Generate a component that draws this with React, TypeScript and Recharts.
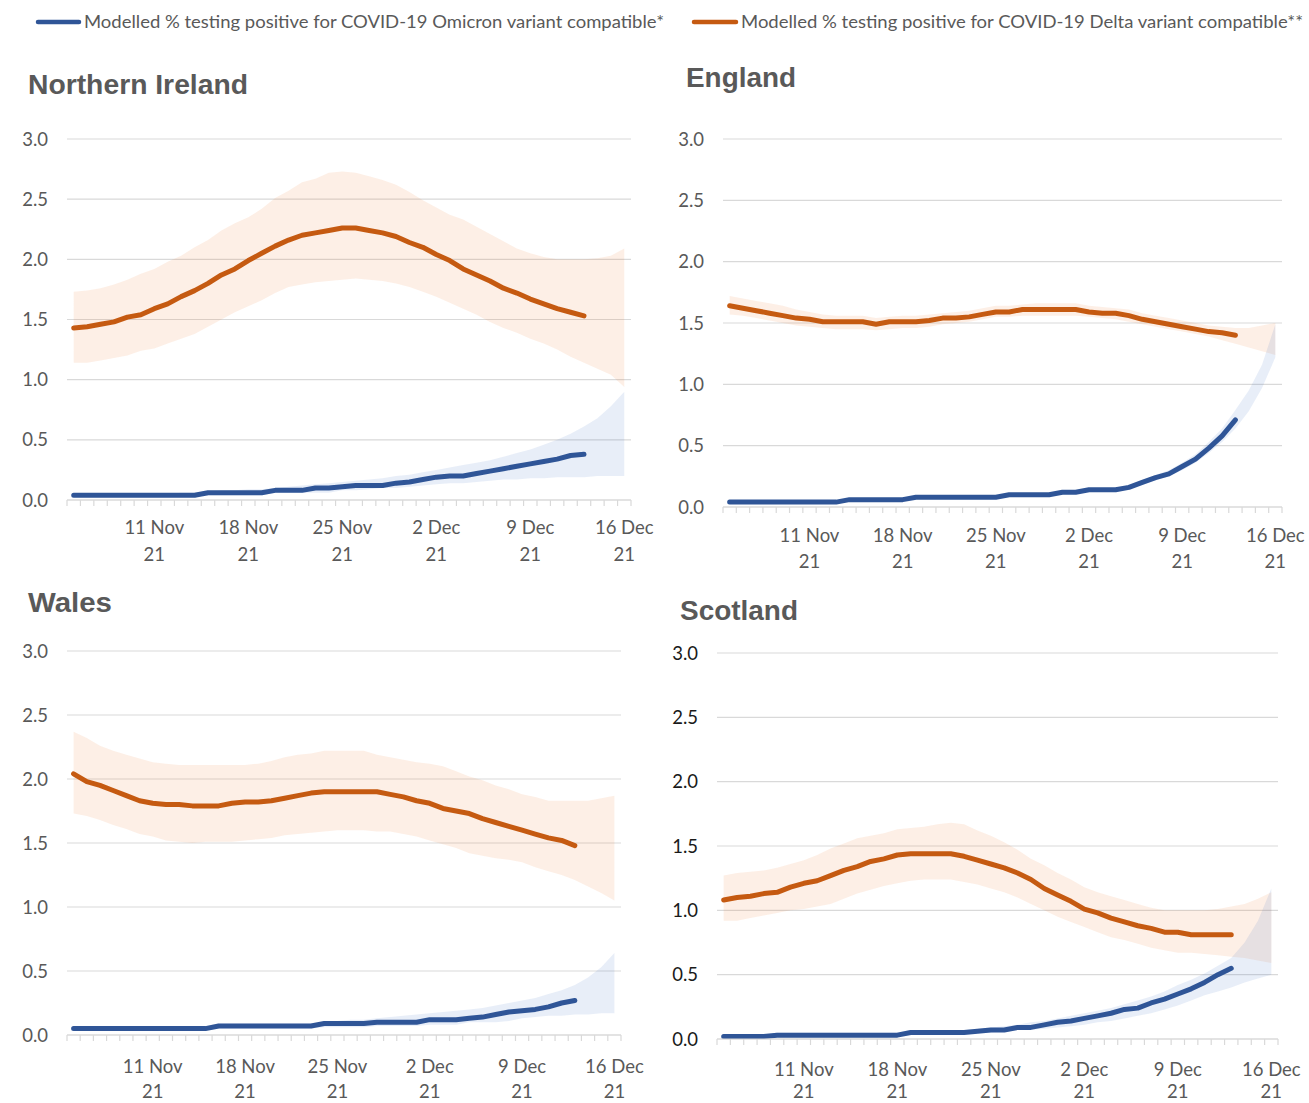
import { ComposedChart, Area, Line, XAxis, YAxis, CartesianGrid } from "recharts"

// Daily categories, 5 Nov – 16 Dec 2021
const dates = [
  "5 Nov", "6 Nov", "7 Nov", "8 Nov", "9 Nov", "10 Nov", "11 Nov", "12 Nov", "13 Nov", "14 Nov",
  "15 Nov", "16 Nov", "17 Nov", "18 Nov", "19 Nov", "20 Nov", "21 Nov", "22 Nov", "23 Nov", "24 Nov",
  "25 Nov", "26 Nov", "27 Nov", "28 Nov", "29 Nov", "30 Nov", "1 Dec", "2 Dec", "3 Dec", "4 Dec",
  "5 Dec", "6 Dec", "7 Dec", "8 Dec", "9 Dec", "10 Dec", "11 Dec", "12 Dec", "13 Dec", "14 Dec",
  "15 Dec", "16 Dec",
]
const tickLabels = ["11 Nov", "18 Nov", "25 Nov", "2 Dec", "9 Dec", "16 Dec"]
const yearLabel = "21"
const yTicks = [0, 0.5, 1, 1.5, 2, 2.5, 3]

const omicronName = "Modelled % testing positive for COVID-19 Omicron variant compatible*"
const deltaName = "Modelled % testing positive for COVID-19 Delta variant compatible**"

// Northern Ireland
const niDelta = [1.43, 1.44, 1.46, 1.48, 1.52, 1.54, 1.59, 1.63, 1.69, 1.74, 1.80, 1.87, 1.92, 1.99, 2.05, 2.11, 2.16, 2.20, 2.22, 2.24, 2.26, 2.26, 2.24, 2.22, 2.19, 2.14, 2.10, 2.04, 1.99, 1.92, 1.87, 1.82, 1.76, 1.72, 1.67, 1.63, 1.59, 1.56, 1.53]
const niDeltaHigh = [1.73, 1.74, 1.76, 1.79, 1.83, 1.88, 1.92, 1.98, 2.03, 2.10, 2.16, 2.24, 2.30, 2.35, 2.42, 2.51, 2.57, 2.64, 2.67, 2.72, 2.73, 2.72, 2.69, 2.66, 2.62, 2.56, 2.49, 2.43, 2.37, 2.33, 2.27, 2.21, 2.15, 2.09, 2.05, 2.02, 2.00, 2.00, 2.00, 2.01, 2.03, 2.09]
const niDeltaLow = [1.14, 1.14, 1.16, 1.18, 1.20, 1.24, 1.26, 1.30, 1.34, 1.38, 1.44, 1.50, 1.56, 1.61, 1.66, 1.72, 1.77, 1.79, 1.81, 1.82, 1.83, 1.84, 1.83, 1.82, 1.80, 1.77, 1.73, 1.69, 1.64, 1.59, 1.54, 1.48, 1.43, 1.39, 1.34, 1.30, 1.25, 1.19, 1.14, 1.09, 1.04, 0.94]
const niOmicron = [0.04, 0.04, 0.04, 0.04, 0.04, 0.04, 0.04, 0.04, 0.04, 0.04, 0.06, 0.06, 0.06, 0.06, 0.06, 0.08, 0.08, 0.08, 0.10, 0.10, 0.11, 0.12, 0.12, 0.12, 0.14, 0.15, 0.17, 0.19, 0.20, 0.20, 0.22, 0.24, 0.26, 0.28, 0.30, 0.32, 0.34, 0.37, 0.38]
const niOmicronHigh = [0.05, 0.05, 0.05, 0.05, 0.05, 0.05, 0.05, 0.05, 0.06, 0.06, 0.07, 0.08, 0.08, 0.09, 0.09, 0.10, 0.11, 0.12, 0.13, 0.14, 0.15, 0.16, 0.17, 0.18, 0.20, 0.21, 0.23, 0.25, 0.27, 0.29, 0.31, 0.33, 0.36, 0.39, 0.42, 0.46, 0.50, 0.55, 0.61, 0.68, 0.78, 0.90]
const niOmicronLow = [0.03, 0.03, 0.03, 0.03, 0.03, 0.03, 0.03, 0.03, 0.03, 0.03, 0.04, 0.04, 0.04, 0.04, 0.04, 0.06, 0.06, 0.06, 0.06, 0.06, 0.08, 0.08, 0.09, 0.10, 0.10, 0.11, 0.12, 0.13, 0.14, 0.14, 0.15, 0.16, 0.17, 0.17, 0.18, 0.18, 0.19, 0.19, 0.19, 0.20, 0.20, 0.20]

// England
const enDelta = [1.64, 1.62, 1.60, 1.58, 1.56, 1.54, 1.53, 1.51, 1.51, 1.51, 1.51, 1.49, 1.51, 1.51, 1.51, 1.52, 1.54, 1.54, 1.55, 1.57, 1.59, 1.59, 1.61, 1.61, 1.61, 1.61, 1.61, 1.59, 1.58, 1.58, 1.56, 1.53, 1.51, 1.49, 1.47, 1.45, 1.43, 1.42, 1.40]
const enDeltaHigh = [1.72, 1.70, 1.68, 1.66, 1.64, 1.61, 1.59, 1.57, 1.56, 1.56, 1.56, 1.54, 1.55, 1.56, 1.56, 1.57, 1.58, 1.59, 1.60, 1.62, 1.64, 1.64, 1.65, 1.66, 1.66, 1.66, 1.66, 1.64, 1.63, 1.62, 1.61, 1.58, 1.56, 1.54, 1.52, 1.50, 1.48, 1.47, 1.46, 1.46, 1.48, 1.50]
const enDeltaLow = [1.57, 1.56, 1.54, 1.52, 1.50, 1.48, 1.47, 1.46, 1.45, 1.45, 1.45, 1.44, 1.45, 1.46, 1.46, 1.47, 1.49, 1.50, 1.51, 1.53, 1.55, 1.55, 1.56, 1.56, 1.56, 1.56, 1.56, 1.55, 1.54, 1.53, 1.51, 1.49, 1.47, 1.45, 1.43, 1.41, 1.39, 1.36, 1.33, 1.30, 1.27, 1.24]
const enOmicron = [0.04, 0.04, 0.04, 0.04, 0.04, 0.04, 0.04, 0.04, 0.04, 0.06, 0.06, 0.06, 0.06, 0.06, 0.08, 0.08, 0.08, 0.08, 0.08, 0.08, 0.08, 0.10, 0.10, 0.10, 0.10, 0.12, 0.12, 0.14, 0.14, 0.14, 0.16, 0.20, 0.24, 0.27, 0.33, 0.39, 0.48, 0.58, 0.71]
const enOmicronHigh = [0.05, 0.05, 0.05, 0.05, 0.05, 0.05, 0.05, 0.05, 0.05, 0.07, 0.07, 0.07, 0.07, 0.07, 0.09, 0.09, 0.09, 0.09, 0.09, 0.09, 0.09, 0.11, 0.11, 0.11, 0.11, 0.13, 0.13, 0.15, 0.15, 0.15, 0.18, 0.22, 0.26, 0.30, 0.36, 0.43, 0.53, 0.64, 0.79, 0.95, 1.16, 1.49]
const enOmicronLow = [0.03, 0.03, 0.03, 0.03, 0.03, 0.03, 0.03, 0.03, 0.03, 0.05, 0.05, 0.05, 0.05, 0.05, 0.07, 0.07, 0.07, 0.07, 0.07, 0.07, 0.07, 0.09, 0.09, 0.09, 0.09, 0.11, 0.11, 0.13, 0.13, 0.13, 0.15, 0.18, 0.22, 0.25, 0.30, 0.36, 0.44, 0.53, 0.64, 0.78, 0.97, 1.22]

// Wales
const waDelta = [2.04, 1.98, 1.95, 1.91, 1.87, 1.83, 1.81, 1.80, 1.80, 1.79, 1.79, 1.79, 1.81, 1.82, 1.82, 1.83, 1.85, 1.87, 1.89, 1.90, 1.90, 1.90, 1.90, 1.90, 1.88, 1.86, 1.83, 1.81, 1.77, 1.75, 1.73, 1.69, 1.66, 1.63, 1.60, 1.57, 1.54, 1.52, 1.48]
const waDeltaHigh = [2.37, 2.32, 2.26, 2.22, 2.19, 2.16, 2.13, 2.12, 2.11, 2.11, 2.11, 2.11, 2.11, 2.11, 2.12, 2.14, 2.17, 2.19, 2.20, 2.22, 2.22, 2.22, 2.22, 2.19, 2.17, 2.15, 2.13, 2.12, 2.10, 2.06, 2.02, 1.99, 1.95, 1.92, 1.88, 1.86, 1.83, 1.83, 1.83, 1.83, 1.85, 1.87]
const waDeltaLow = [1.73, 1.71, 1.68, 1.64, 1.61, 1.57, 1.55, 1.52, 1.51, 1.50, 1.51, 1.51, 1.51, 1.52, 1.53, 1.54, 1.56, 1.57, 1.58, 1.59, 1.60, 1.60, 1.60, 1.59, 1.59, 1.57, 1.55, 1.52, 1.49, 1.46, 1.42, 1.40, 1.38, 1.37, 1.35, 1.31, 1.28, 1.25, 1.21, 1.16, 1.11, 1.05]
const waOmicron = [0.05, 0.05, 0.05, 0.05, 0.05, 0.05, 0.05, 0.05, 0.05, 0.05, 0.05, 0.07, 0.07, 0.07, 0.07, 0.07, 0.07, 0.07, 0.07, 0.09, 0.09, 0.09, 0.09, 0.10, 0.10, 0.10, 0.10, 0.12, 0.12, 0.12, 0.13, 0.14, 0.16, 0.18, 0.19, 0.20, 0.22, 0.25, 0.27]
const waOmicronHigh = [0.07, 0.07, 0.07, 0.07, 0.07, 0.07, 0.07, 0.07, 0.07, 0.07, 0.07, 0.09, 0.09, 0.09, 0.09, 0.09, 0.09, 0.09, 0.09, 0.10, 0.11, 0.12, 0.12, 0.13, 0.14, 0.15, 0.16, 0.17, 0.18, 0.19, 0.20, 0.21, 0.23, 0.25, 0.27, 0.29, 0.32, 0.35, 0.39, 0.45, 0.53, 0.64]
const waOmicronLow = [0.04, 0.04, 0.04, 0.04, 0.04, 0.04, 0.04, 0.04, 0.04, 0.04, 0.04, 0.05, 0.05, 0.05, 0.05, 0.05, 0.05, 0.05, 0.05, 0.06, 0.06, 0.06, 0.06, 0.07, 0.07, 0.07, 0.07, 0.08, 0.08, 0.08, 0.10, 0.10, 0.10, 0.11, 0.13, 0.14, 0.15, 0.15, 0.16, 0.16, 0.17, 0.17]

// Scotland
const scDelta = [1.08, 1.10, 1.11, 1.13, 1.14, 1.18, 1.21, 1.23, 1.27, 1.31, 1.34, 1.38, 1.40, 1.43, 1.44, 1.44, 1.44, 1.44, 1.42, 1.39, 1.36, 1.33, 1.29, 1.24, 1.17, 1.12, 1.07, 1.01, 0.98, 0.94, 0.91, 0.88, 0.86, 0.83, 0.83, 0.81, 0.81, 0.81, 0.81]
const scDeltaHigh = [1.27, 1.29, 1.30, 1.31, 1.33, 1.36, 1.39, 1.43, 1.48, 1.52, 1.56, 1.58, 1.60, 1.63, 1.64, 1.65, 1.67, 1.68, 1.67, 1.62, 1.58, 1.53, 1.47, 1.40, 1.35, 1.29, 1.24, 1.18, 1.14, 1.11, 1.08, 1.05, 1.02, 1.00, 1.00, 1.00, 1.00, 1.01, 1.03, 1.05, 1.09, 1.14]
const scDeltaLow = [0.92, 0.92, 0.94, 0.96, 0.98, 1.00, 1.01, 1.03, 1.05, 1.09, 1.13, 1.16, 1.19, 1.21, 1.23, 1.24, 1.24, 1.24, 1.22, 1.20, 1.17, 1.14, 1.10, 1.05, 1.00, 0.95, 0.91, 0.87, 0.83, 0.79, 0.77, 0.74, 0.71, 0.69, 0.67, 0.67, 0.66, 0.65, 0.64, 0.63, 0.61, 0.59]
const scOmicron = [0.02, 0.02, 0.02, 0.02, 0.03, 0.03, 0.03, 0.03, 0.03, 0.03, 0.03, 0.03, 0.03, 0.03, 0.05, 0.05, 0.05, 0.05, 0.05, 0.06, 0.07, 0.07, 0.09, 0.09, 0.11, 0.13, 0.14, 0.16, 0.18, 0.20, 0.23, 0.24, 0.28, 0.31, 0.35, 0.39, 0.44, 0.50, 0.55]
const scOmicronHigh = [0.03, 0.03, 0.03, 0.03, 0.05, 0.05, 0.05, 0.05, 0.05, 0.05, 0.05, 0.05, 0.05, 0.05, 0.07, 0.07, 0.07, 0.07, 0.07, 0.08, 0.09, 0.10, 0.11, 0.13, 0.14, 0.16, 0.18, 0.20, 0.22, 0.24, 0.27, 0.30, 0.33, 0.37, 0.42, 0.46, 0.51, 0.57, 0.63, 0.75, 0.92, 1.17]
const scOmicronLow = [0.01, 0.01, 0.01, 0.01, 0.02, 0.02, 0.02, 0.02, 0.02, 0.02, 0.02, 0.02, 0.02, 0.02, 0.04, 0.04, 0.04, 0.04, 0.04, 0.05, 0.05, 0.06, 0.07, 0.07, 0.08, 0.09, 0.10, 0.11, 0.13, 0.14, 0.16, 0.18, 0.20, 0.23, 0.26, 0.30, 0.34, 0.37, 0.40, 0.44, 0.47, 0.50]

const DELTA = "#C55A11"
const OMICRON = "#2F5597"
const TEXT = "#595959"
const GRID = "#d9d9d9"

// tick marks sit between days, so put them on the half-day boundaries
const boundaries = dates.map((_, k) => k - 0.5).concat(dates.length - 0.5)

type Series = {
  delta: number[]
  deltaLow: number[]
  deltaHigh: number[]
  omicron: number[]
  omicronLow: number[]
  omicronHigh: number[]
}

function DateTick(props: any) {
  const { x, y, payload, half, line1, line2 } = props
  const label = dates[Math.round(payload.value + 0.5)]
  if (!label || !tickLabels.includes(label)) return <g />
  const base = y - 6
  const cx = x + half
  return (
    <text textAnchor="middle" fill={TEXT} fontFamily="Lato" fontSize={18.5}>
      <tspan x={cx} y={base + line1 + 6.5}>{label}</tspan>
      <tspan x={cx} y={base + line2 + 6.5}>{yearLabel}</tspan>
    </text>
  )
}

function RegionPanel({
  series,
  plot,
  line1,
  line2,
  yColor = TEXT,
}: {
  series: Series
  plot: { left: number; top: number; right: number; bottom: number }
  line1: number
  line2: number
  yColor?: string
}) {
  const plotW = plot.right - plot.left
  const plotH = plot.bottom - plot.top
  const half = plotW / dates.length / 2

  const data = dates.map((date, i) => ({
    i,
    date,
    delta: series.delta[i] ?? null,
    omicron: series.omicron[i] ?? null,
    deltaBand: [series.deltaLow[i], series.deltaHigh[i]],
    omicronBand: [series.omicronLow[i], series.omicronHigh[i]],
  }))

  return (
    <div style={{ position: "absolute", left: plot.left - 60, top: plot.top - 10 }}>
      <ComposedChart
        width={plotW + 105}
        height={plotH + 90}
        data={data}
        margin={{ top: 10, right: 45, bottom: 0, left: 0 }}
        style={{ overflow: "visible" }}
      >
        <CartesianGrid vertical={false} stroke={GRID} strokeWidth={1.2} />
        <XAxis
          type="number"
          dataKey="i"
          domain={[-0.5, dates.length - 0.5]}
          ticks={boundaries}
          interval={0}
          allowDataOverflow
          height={80}
          tickSize={6}
          tickMargin={0}
          axisLine={{ stroke: GRID, strokeWidth: 1.2 }}
          tickLine={{ stroke: GRID, strokeWidth: 1.2 }}
          tick={(p: any) => <DateTick {...p} half={half} line1={line1} line2={line2} />}
        />
        <YAxis
          type="number"
          domain={[0, 3]}
          ticks={yTicks}
          interval={0}
          width={60}
          axisLine={false}
          tickLine={false}
          tickSize={0}
          tickMargin={19}
          tick={{ fill: yColor, fontSize: 18.5, fontFamily: "Lato" }}
          tickFormatter={(v: number) => v.toFixed(1)}
        />
        <Area
          type="linear"
          dataKey="deltaBand"
          stroke="none"
          fill="#ED7D31"
          fillOpacity={0.12}
          dot={false}
          activeDot={false}
          isAnimationActive={false}
        />
        <Area
          type="linear"
          dataKey="omicronBand"
          stroke="none"
          fill="#4472C4"
          fillOpacity={0.12}
          dot={false}
          activeDot={false}
          isAnimationActive={false}
        />
        <Line
          type="linear"
          dataKey="delta"
          stroke={DELTA}
          strokeWidth={5}
          strokeLinecap="round"
          strokeLinejoin="round"
          dot={false}
          activeDot={false}
          isAnimationActive={false}
        />
        <Line
          type="linear"
          dataKey="omicron"
          stroke={OMICRON}
          strokeWidth={5}
          strokeLinecap="round"
          strokeLinejoin="round"
          dot={false}
          activeDot={false}
          isAnimationActive={false}
        />
      </ComposedChart>
    </div>
  )
}

export default function App() {
  return (
    <div
      style={{
        position: "absolute",
        left: 0,
        top: 0,
        width: 1309,
        height: 1103,
        overflow: "hidden",
        background: "#fff",
      }}
    >
      <RegionPanel
        series={{ delta: niDelta, deltaLow: niDeltaLow, deltaHigh: niDeltaHigh, omicron: niOmicron, omicronLow: niOmicronLow, omicronHigh: niOmicronHigh }}
        plot={{ left: 67, top: 139, right: 631, bottom: 500 }}
        line1={27}
        line2={54}
      />
      <RegionPanel
        series={{ delta: enDelta, deltaLow: enDeltaLow, deltaHigh: enDeltaHigh, omicron: enOmicron, omicronLow: enOmicronLow, omicronHigh: enOmicronHigh }}
        plot={{ left: 723, top: 139, right: 1282, bottom: 507 }}
        line1={28}
        line2={54}
      />
      <RegionPanel
        series={{ delta: waDelta, deltaLow: waDeltaLow, deltaHigh: waDeltaHigh, omicron: waOmicron, omicronLow: waOmicronLow, omicronHigh: waOmicronHigh }}
        plot={{ left: 67, top: 651, right: 621, bottom: 1035 }}
        line1={31}
        line2={56}
      />
      <RegionPanel
        series={{ delta: scDelta, deltaLow: scDeltaLow, deltaHigh: scDeltaHigh, omicron: scOmicron, omicronLow: scOmicronLow, omicronHigh: scOmicronHigh }}
        plot={{ left: 717, top: 653, right: 1278, bottom: 1039 }}
        line1={30}
        line2={52}
        yColor="#1a1a1a"
      />

      {/* legend and region titles */}
      <svg
        width={1309}
        height={1103}
        style={{ position: "absolute", left: 0, top: 0, pointerEvents: "none" }}
      >
        <line x1={38} y1={22} x2={79} y2={22} stroke={OMICRON} strokeWidth={4.5} strokeLinecap="round" />
        <text x={84} y={28} fill={TEXT} fontFamily="Lato" fontSize={18} textLength={580} lengthAdjust="spacingAndGlyphs">
          {omicronName}
        </text>
        <line x1={694} y1={22} x2={736} y2={22} stroke={DELTA} strokeWidth={4.5} strokeLinecap="round" />
        <text x={741} y={28} fill={TEXT} fontFamily="Lato" fontSize={18} textLength={562} lengthAdjust="spacingAndGlyphs">
          {deltaName}
        </text>

        <g fill={TEXT} fontFamily="Liberation Sans, Arial, sans-serif" fontWeight="bold" fontSize={27}>
          <text x={28} y={94} textLength={220} lengthAdjust="spacingAndGlyphs">Northern Ireland</text>
          <text x={686} y={87} textLength={110} lengthAdjust="spacingAndGlyphs">England</text>
          <text x={28} y={612} textLength={84} lengthAdjust="spacingAndGlyphs">Wales</text>
          <text x={680} y={620} textLength={118} lengthAdjust="spacingAndGlyphs">Scotland</text>
        </g>
      </svg>
    </div>
  )
}
